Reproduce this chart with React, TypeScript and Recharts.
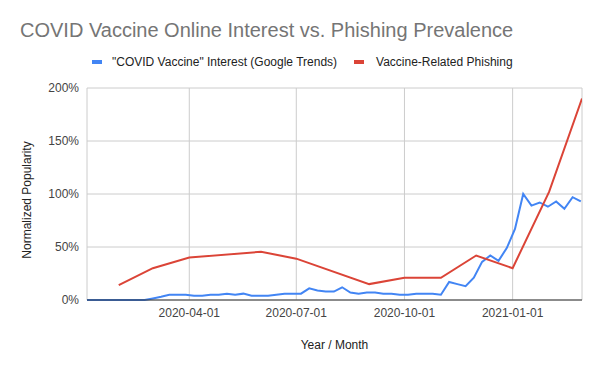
import React from 'react';
import { LineChart, Line, XAxis, YAxis, CartesianGrid, Label } from 'recharts';

// weekly Google Trends samples (Sundays)
const weekDates = [
  '2020-01-05', '2020-01-12', '2020-01-19', '2020-01-26',
  '2020-02-02', '2020-02-09', '2020-02-16', '2020-02-23',
  '2020-03-01', '2020-03-08', '2020-03-15', '2020-03-22', '2020-03-29',
  '2020-04-05', '2020-04-12', '2020-04-19', '2020-04-26',
  '2020-05-03', '2020-05-10', '2020-05-17', '2020-05-24', '2020-05-31',
  '2020-06-07', '2020-06-14', '2020-06-21', '2020-06-28',
  '2020-07-05', '2020-07-12', '2020-07-19', '2020-07-26',
  '2020-08-02', '2020-08-09', '2020-08-16', '2020-08-23', '2020-08-30',
  '2020-09-06', '2020-09-13', '2020-09-20', '2020-09-27',
  '2020-10-04', '2020-10-11', '2020-10-18', '2020-10-25',
  '2020-11-01', '2020-11-08', '2020-11-15', '2020-11-22', '2020-11-29',
  '2020-12-06', '2020-12-13', '2020-12-20', '2020-12-27',
  '2021-01-03', '2021-01-10', '2021-01-17', '2021-01-24', '2021-01-31',
  '2021-02-07', '2021-02-14', '2021-02-21', '2021-02-28',
];

const interestValues = [
  0, 0, 0, 0,
  0, 0, 0, 0,
  1.5, 3, 5, 5, 5,
  4, 4, 5, 5,
  6, 5, 6, 4, 4,
  4, 5, 6, 6,
  6, 11, 9, 8,
  8, 12, 7, 6, 7,
  7, 6, 6, 5,
  5, 6, 6, 6,
  5, 17, 15, 13, 21,
  36, 42, 37, 49,
  67, 100, 89, 92, 88,
  93, 86, 97, 93,
];

// monthly phishing samples
const phishingDates = [
  '2020-02-01', '2020-03-01', '2020-04-01', '2020-06-01', '2020-07-01',
  '2020-09-01', '2020-10-01', '2020-11-01', '2020-12-01', '2021-01-01',
  '2021-02-01', '2021-03-01',
];
const phishingValues = [14, 30, 40, 45.5, 39, 15, 21, 21, 42, 30, 102, 190];

const tickDates = ['2020-04-01', '2020-07-01', '2020-10-01', '2021-01-01'];
const yTicks = [0, 50, 100, 150, 200];

const toTime = (d: string) => Date.parse(d + 'T00:00:00Z');

const interestData = weekDates.map((d, i) => ({ t: toTime(d), v: interestValues[i] }));
const phishingData = phishingDates.map((d, i) => ({ t: toTime(d), v: phishingValues[i] }));

const BLUE = '#4285f4';
const RED = '#db4437';
const FONT = 'Arial, "Liberation Sans", sans-serif';

const fmtDate = (t: number) => new Date(t).toISOString().slice(0, 10);

export default function App() {
  return (
    <div style={{ position: 'absolute', left: 0, top: 0, width: 600, height: 371, background: '#fff', fontFamily: FONT }}>
      <div style={{ position: 'absolute', left: 20, top: 19, fontSize: 20, color: '#757575', whiteSpace: 'nowrap' }}>
        COVID Vaccine Online Interest vs. Phishing Prevalence
      </div>
      <div style={{ position: 'absolute', left: 92, top: 55, fontSize: 12, color: '#222', display: 'flex', alignItems: 'center', whiteSpace: 'nowrap' }}>
        <span style={{ display: 'inline-block', width: 10, height: 4, background: BLUE, marginRight: 10 }} />
        <span>"COVID Vaccine" Interest (Google Trends)</span>
        <span style={{ display: 'inline-block', width: 10, height: 4, background: RED, marginLeft: 17, marginRight: 12 }} />
        <span>Vaccine-Related Phishing</span>
      </div>
      <div style={{ position: 'absolute', left: 27, top: 200, transform: 'translate(-50%, -50%) rotate(-90deg)', fontSize: 12, color: '#222', whiteSpace: 'nowrap' }}>
        Normalized Popularity
      </div>
      <LineChart width={600} height={371} margin={{ top: 88, right: 18, bottom: 0, left: 0 }}>
        <CartesianGrid stroke="#cccccc" />
        <XAxis
          dataKey="t"
          type="number"
          domain={[toTime('2020-01-05'), toTime('2021-03-01')]}
          ticks={tickDates.map(toTime)}
          tickFormatter={fmtDate}
          allowDataOverflow
          height={71}
          tickLine={false}
          axisLine={{ stroke: '#333333' }}
          tick={{ fill: '#444', fontSize: 12, fontFamily: FONT }}
        >
          <Label value="Year / Month" position="insideBottom" offset={22} fill="#222" fontSize={12} fontFamily={FONT} />
        </XAxis>
        <YAxis
          type="number"
          domain={[0, 200]}
          ticks={yTicks}
          tickFormatter={(v: number) => `${v}%`}
          width={87}
          tickLine={false}
          axisLine={false}
          tick={{ fill: '#444', fontSize: 12, fontFamily: FONT }}
        />
        <Line data={interestData} dataKey="v" type="linear" stroke={BLUE} strokeWidth={2} dot={false} isAnimationActive={false} />
        <Line data={phishingData} dataKey="v" type="linear" stroke={RED} strokeWidth={2} dot={false} isAnimationActive={false} />
      </LineChart>
    </div>
  );
}
